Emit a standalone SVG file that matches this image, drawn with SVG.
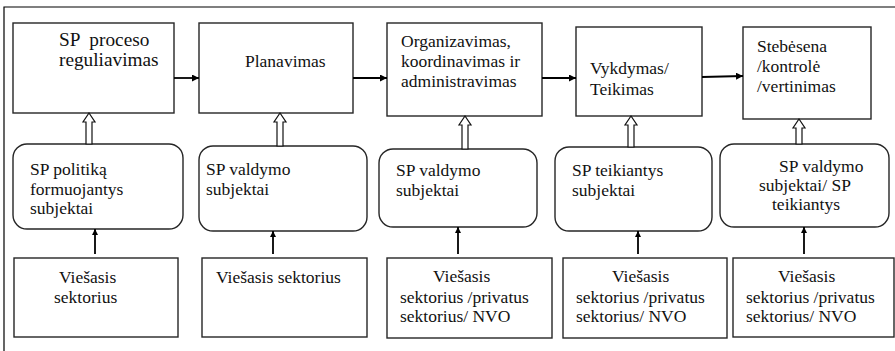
<svg xmlns="http://www.w3.org/2000/svg" width="895" height="351" viewBox="0 0 895 351">
  <style>
    .box { fill: #ffffff; stroke: #262626; stroke-width: 1.4; }
    .frame { fill: none; stroke: #000000; stroke-width: 1.2; }
    .t { font-family: 'Liberation Serif', 'Times New Roman', serif; font-size: 17.5px; fill: #111111; }
    .big { font-size: 19.3px; }
    .line { stroke: #000000; stroke-width: 1.8; fill: none; }
    .hollow { fill: #ffffff; stroke: #111111; stroke-width: 1.2; stroke-linejoin: miter; }
  </style>
  <defs>
    <marker id="head" viewBox="0 0 10 10" refX="10" refY="5" markerWidth="6" markerHeight="6" markerUnits="userSpaceOnUse" orient="auto">
      <path d="M0,0 L10,5 L0,10 Z" fill="#000000"/>
    </marker>
    <marker id="headH" viewBox="0 0 10 10" refX="10" refY="5" markerWidth="7" markerHeight="7" orient="auto" markerUnits="userSpaceOnUse">
      <path d="M0,0 L10,5 L0,10 Z" fill="#000000"/>
    </marker>
  </defs>

  <rect width="895" height="351" fill="#ffffff"/>
  <path class="frame" d="M4,351 L4,7 L895,7"/>

  <!-- process stages -->
  <g id="stage-reguliavimas">
    <rect class="box" x="13" y="23" width="161" height="90"/>
    <text class="t big" x="59" y="46" xml:space="preserve">SP  proceso</text>
    <text class="t big" x="59" y="66">reguliavimas</text>
  </g>
  <g id="stage-planavimas">
    <rect class="box" x="199" y="23" width="154" height="90"/>
    <text class="t" x="245" y="67">Planavimas</text>
  </g>
  <g id="stage-organizavimas">
    <rect class="box" x="387" y="23" width="155" height="93"/>
    <text class="t" x="401" y="47">Organizavimas,</text>
    <text class="t" x="401" y="67">koordinavimas ir</text>
    <text class="t" x="401" y="87">administravimas</text>
  </g>
  <g id="stage-vykdymas">
    <rect class="box" x="576" y="27" width="126" height="89"/>
    <text class="t" x="590" y="74">Vykdymas/</text>
    <text class="t" x="590" y="95">Teikimas</text>
  </g>
  <g id="stage-stebesena">
    <rect class="box" x="743" y="27" width="128" height="92"/>
    <text class="t" x="757" y="52">Stebėsena</text>
    <text class="t" x="757" y="72">/kontrolė</text>
    <text class="t" x="757" y="92">/vertinimas</text>
  </g>

  <!-- actors -->
  <g id="actor-politika">
    <rect class="box" x="13" y="144" width="170" height="85" rx="14" ry="14"/>
    <text class="t" x="30" y="175">SP politiką</text>
    <text class="t" x="30" y="195">formuojantys</text>
    <text class="t" x="30" y="214">subjektai</text>
  </g>
  <g id="actor-valdymas-1">
    <rect class="box" x="199" y="146" width="168" height="85" rx="14" ry="14"/>
    <text class="t" x="206" y="175">SP valdymo</text>
    <text class="t" x="206" y="195">subjektai</text>
  </g>
  <g id="actor-valdymas-2">
    <rect class="box" x="379" y="149" width="158" height="78" rx="14" ry="14"/>
    <text class="t" x="396" y="176">SP valdymo</text>
    <text class="t" x="396" y="196">subjektai</text>
  </g>
  <g id="actor-teikiantys">
    <rect class="box" x="555" y="147" width="157" height="84" rx="14" ry="14"/>
    <text class="t" x="572" y="176">SP teikiantys</text>
    <text class="t" x="572" y="196">subjektai</text>
  </g>
  <g id="actor-mixed">
    <rect class="box" x="720" y="144" width="169" height="83" rx="14" ry="14"/>
    <text class="t" x="779" y="172">SP valdymo</text>
    <text class="t" x="759" y="191">subjektai/ SP</text>
    <text class="t" x="772" y="210">teikiantys</text>
  </g>

  <!-- sectors -->
  <g id="sector-1">
    <rect class="box" x="14" y="258" width="164" height="79"/>
    <text class="t" x="59" y="283">Viešasis</text>
    <text class="t" x="54" y="303">sektorius</text>
  </g>
  <g id="sector-2">
    <rect class="box" x="202" y="258" width="165" height="79"/>
    <text class="t" x="216" y="283">Viešasis sektorius</text>
  </g>
  <g id="sector-3">
    <rect class="box" x="387" y="258" width="165" height="80"/>
    <text class="t" x="433" y="282">Viešasis</text>
    <text class="t" x="400" y="303">sektorius /privatus</text>
    <text class="t" x="400" y="322">sektorius/ NVO</text>
  </g>
  <g id="sector-4">
    <rect class="box" x="563" y="258" width="164" height="80"/>
    <text class="t" x="612" y="282">Viešasis</text>
    <text class="t" x="576" y="303">sektorius /privatus</text>
    <text class="t" x="576" y="322">sektorius/ NVO</text>
  </g>
  <g id="sector-5">
    <rect class="box" x="733" y="258" width="161" height="79"/>
    <text class="t" x="778" y="282">Viešasis</text>
    <text class="t" x="746" y="303">sektorius /privatus</text>
    <text class="t" x="746" y="322">sektorius/ NVO</text>
  </g>

  <!-- connectors -->
  <g id="connectors">
    <!-- stage sequence -->
    <line class="line" x1="174" y1="78" x2="199" y2="78" marker-end="url(#headH)"/>
    <line class="line" x1="353" y1="78" x2="387" y2="78" marker-end="url(#headH)"/>
    <line class="line" x1="542" y1="78" x2="576" y2="78" marker-end="url(#headH)"/>
    <line class="line" x1="702" y1="77" x2="743" y2="76" marker-end="url(#headH)"/>

    <!-- actors to stages (outlined block arrows) -->
    <path class="hollow" d="M89,113 L95,122 L92,122 L92,144 L86,144 L86,122 L83,122 Z"/>
    <path class="hollow" d="M280,113 L286,122 L283,122 L283,146 L277,146 L277,122 L274,122 Z"/>
    <path class="hollow" d="M465,116 L471,125 L468,125 L468,149 L462,149 L462,125 L459,125 Z"/>
    <path class="hollow" d="M631,116 L637,125 L634,125 L634,147 L628,147 L628,125 L625,125 Z"/>
    <path class="hollow" d="M799,119 L805,128 L802,128 L802,144 L796,144 L796,128 L793,128 Z"/>

    <!-- sectors to actors -->
    <line class="line" x1="95" y1="254" x2="95" y2="229" marker-end="url(#head)"/>
    <line class="line" x1="273" y1="254" x2="273" y2="231" marker-end="url(#head)"/>
    <line class="line" x1="458" y1="254" x2="458" y2="227" marker-end="url(#head)"/>
    <line class="line" x1="638" y1="254" x2="638" y2="231" marker-end="url(#head)"/>
    <line class="line" x1="804" y1="254" x2="804" y2="227" marker-end="url(#head)"/>
  </g>
</svg>
